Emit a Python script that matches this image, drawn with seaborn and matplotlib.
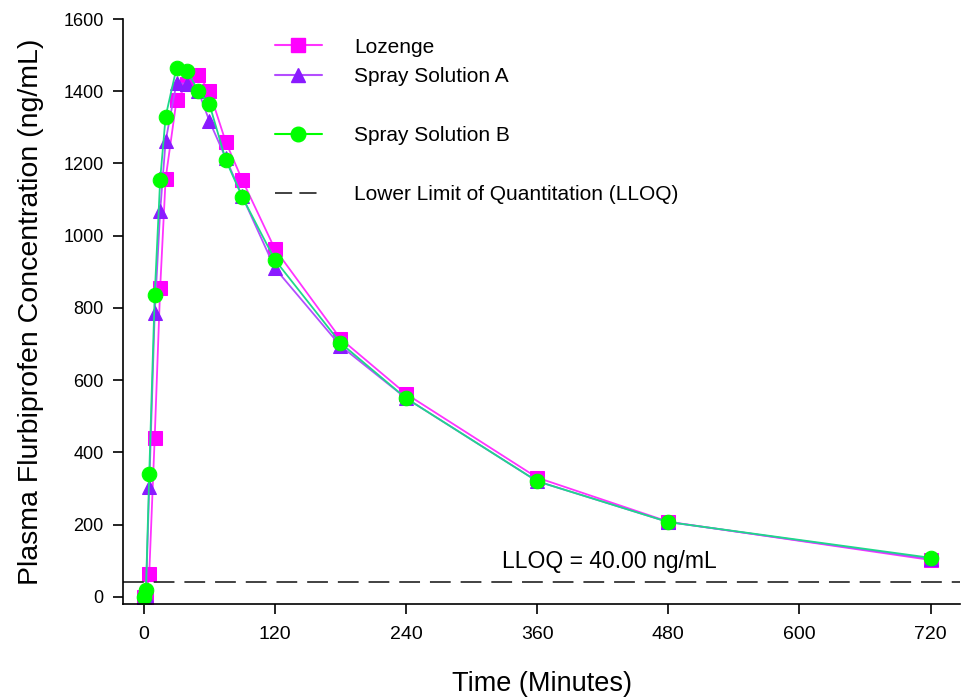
import matplotlib
matplotlib.use("Agg")
import matplotlib.pyplot as plt
import seaborn as sns
import pandas as pd
from matplotlib.lines import Line2D

times = [0, 2, 5, 10, 15, 20, 30, 40, 50, 60, 75, 90, 120, 180, 240, 360, 480, 720]
lozenge = [0, 0, 64, 440, 855, 1158, 1376, 1420, 1445, 1400, 1260, 1155, 963, 715, 562, 330, 208, 102]
spray_a = [0, 5, 305, 785, 1068, 1262, 1423, 1420, 1400, 1318, 1215, 1110, 910, 695, 550, 320, 207, 105]
spray_b = [0, 20, 340, 835, 1155, 1330, 1465, 1455, 1400, 1365, 1210, 1108, 933, 703, 550, 320, 207, 108]
series_names = ["Lozenge", "Spray Solution A", "Spray Solution B"]
lloq = 40.0
x_ticks = [0, 120, 240, 360, 480, 600, 720]
y_ticks = [0, 200, 400, 600, 800, 1000, 1200, 1400, 1600]

sns.set_style("ticks")
plt.rcParams['font.family'] = ['Liberation Sans', 'DejaVu Sans']
plt.rcParams['text.color'] = 'black'
plt.rcParams['axes.labelcolor'] = 'black'
plt.rcParams['xtick.color'] = 'black'
plt.rcParams['ytick.color'] = 'black'
plt.rcParams['axes.edgecolor'] = 'black'

rows = []
for name, vals in zip(series_names, [lozenge, spray_a, spray_b]):
    for t, v in zip(times, vals):
        rows.append({"Time": t, "Conc": v, "Series": name})
df = pd.DataFrame(rows)

line_colors = {"Lozenge": "#ff33ff", "Spray Solution A": "#b44dff", "Spray Solution B": "#1ed98a"}
marker_colors = {"Lozenge": "#ff00ff", "Spray Solution A": "#8a1aff", "Spray Solution B": "#00ff00"}
markers = {"Lozenge": "s", "Spray Solution A": "^", "Spray Solution B": "o"}
msizes = {"Lozenge": 9.5, "Spray Solution A": 10, "Spray Solution B": 10.5}

fig = plt.figure(figsize=(9.61, 6.97), dpi=100)
ax = fig.add_axes([0.128, 0.1334, 0.871, 0.8393])

for name in series_names:
    sub = df[df["Series"] == name]
    sns.lineplot(data=sub, x="Time", y="Conc", ax=ax, color=line_colors[name],
                 marker=markers[name], markersize=msizes[name], markerfacecolor=marker_colors[name],
                 markeredgecolor=marker_colors[name], linewidth=1.3, legend=False)

ax.axhline(lloq, color="#333333", linestyle=(0, (11.5, 5.5)), linewidth=1.3)
ax.text(328, lloq + 26, "LLOQ = 40.00 ng/mL", fontsize=16.5, ha="left", va="bottom")

ax.set_xlim(-19, 747)
ax.set_ylim(-20, 1600)
ax.set_xticks(x_ticks)
ax.set_yticks(y_ticks)
ax.tick_params(axis="both", length=7, width=1.2, direction="out")
ax.tick_params(axis="x", labelsize=14, pad=9)
ax.tick_params(axis="y", labelsize=13, pad=7)
ax.set_xlabel("Time (Minutes)", fontsize=19.5, labelpad=20)
ax.set_ylabel("Plasma Flurbiprofen Concentration (ng/mL)", fontsize=20.5, labelpad=14)
for s in ["top", "right"]:
    ax.spines[s].set_visible(False)
for s in ["left", "bottom"]:
    ax.spines[s].set_linewidth(1.2)

blank = Line2D([], [], linestyle="none")
handles = [
    Line2D([], [], color=line_colors["Lozenge"], marker="s", markersize=9.5,
           markerfacecolor=marker_colors["Lozenge"], markeredgecolor=marker_colors["Lozenge"]),
    Line2D([], [], color=line_colors["Spray Solution A"], marker="^", markersize=10,
           markerfacecolor=marker_colors["Spray Solution A"], markeredgecolor=marker_colors["Spray Solution A"]),
    blank,
    Line2D([], [], color="#00ff00", marker="o", markersize=10.5,
           markerfacecolor=marker_colors["Spray Solution B"], markeredgecolor=marker_colors["Spray Solution B"]),
    blank,
    Line2D([], [], color="#333333", linestyle=(0, (9.5, 4)), linewidth=1.3),
]
labels = ["Lozenge", "Spray Solution A", "", "Spray Solution B", "", "Lower Limit of Quantitation (LLOQ)"]
ax.legend(handles, labels, loc="upper left", bbox_to_anchor=(0.159, 1.0), frameon=False,
          fontsize=15, handlelength=2.25, handletextpad=1.55, labelspacing=0.5)

fig.savefig("out.png", dpi=100)
